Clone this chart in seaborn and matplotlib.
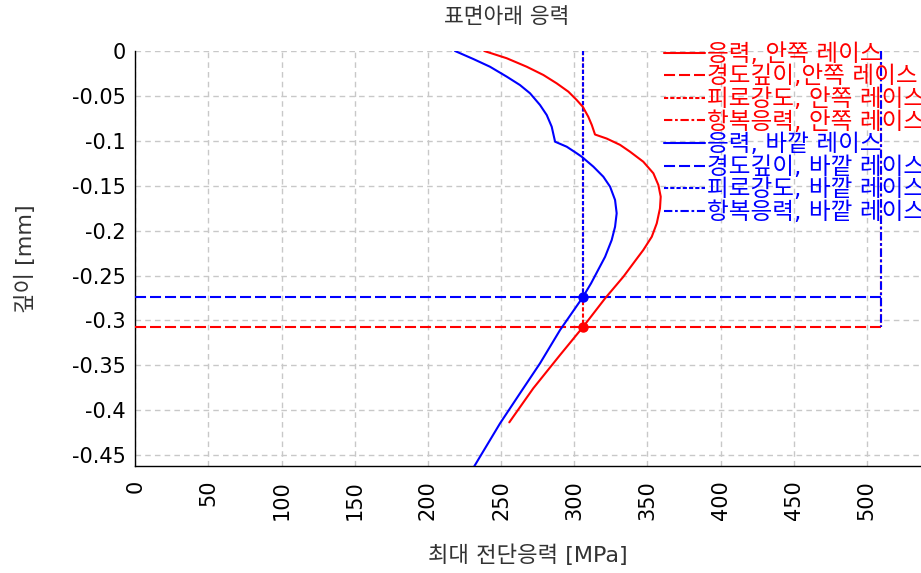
import matplotlib
matplotlib.use("Agg")
import matplotlib.pyplot as plt
import seaborn as sns
import pandas as pd

# Subsurface shear stress profiles (stress in MPa, depth in mm)
inner_stress = [238.5, 253.9, 267.5, 278.9, 288.0, 296.0, 301.7, 305.8, 309.6, 312.0,
                314.2, 322.2, 331.3, 338.1, 347.2, 354.1, 357.5, 359.1, 358.6,
                356.4, 353.0, 347.2, 343.6, 333.6, 321.1, 305.8, 290.3, 272.0, 255.6]
inner_depth = [0.0, -0.0081, -0.0175, -0.0267, -0.0360, -0.0453, -0.0546, -0.0620, -0.0732, -0.0824,
               -0.0930, -0.0975, -0.1045, -0.1121, -0.1233, -0.1362, -0.1492, -0.1622, -0.1752,
               -0.1919, -0.2068, -0.2216, -0.2294, -0.2513, -0.2754, -0.3077, -0.3385, -0.3756, -0.4135]

outer_stress = [218.5, 231.0, 242.4, 253.9, 262.9, 269.8, 276.6, 281.2, 284.6, 286.9,
                294.9, 301.7, 305.1, 313.1, 319.9, 324.5, 327.9, 329.0, 327.9, 325.6,
                321.1, 311.5, 305.8, 290.3, 276.6, 262.9, 249.3, 231.5]
outer_depth = [0.0, -0.0089, -0.0175, -0.0286, -0.0379, -0.0471, -0.0601, -0.0713, -0.0843, -0.1010,
               -0.1066, -0.1139, -0.1177, -0.1288, -0.1400, -0.1511, -0.1659, -0.1807, -0.1957, -0.2105,
               -0.2291, -0.2587, -0.2743, -0.3107, -0.3478, -0.3812, -0.4146, -0.4629]

# Material limits per race
hardness_depth = {"inner": -0.3077, "outer": -0.2743}
fatigue_strength = {"inner": 305.8, "outer": 305.8}
yield_stress = {"inner": 509.7, "outer": 509.7}

x_ticks = [0, 50, 100, 150, 200, 250, 300, 350, 400, 450, 500]
y_ticks = [0, -0.05, -0.1, -0.15, -0.2, -0.25, -0.3, -0.35, -0.4, -0.45]
y_tick_labels = ["0", "-0.05", "-0.1", "-0.15", "-0.2", "-0.25", "-0.3", "-0.35", "-0.4", "-0.45"]

labels = {
    "inner": ["응력, 안쪽 레이스", "경도깊이,안쪽 레이스", "피로강도, 안쪽 레이스", "항복응력, 안쪽 레이스"],
    "outer": ["응력, 바깥 레이스", "경도깊이, 바깥 레이스", "피로강도, 바깥 레이스", "항복응력, 바깥 레이스"],
}
colors = {"inner": "#ff0000", "outer": "#0000ff"}

sns.set_theme(style="white")
plt.rcParams["font.family"] = ["DejaVu Sans", "Noto Sans CJK KR"]

fig = plt.figure(figsize=(9.21, 5.73), dpi=100)
ax = fig.add_axes([135.3 / 921, 107 / 573, 785.7 / 921, 415 / 573])

profiles = pd.concat([
    pd.DataFrame({"stress": inner_stress, "depth": inner_depth, "race": "inner"}),
    pd.DataFrame({"stress": outer_stress, "depth": outer_depth, "race": "outer"}),
])

lw = 1.5
ls_hard = (0, (5.3, 1.9))
ls_fat = (0, (2.0, 1.0))
ls_yield = (0, (4.0, 1.3, 1.3, 1.3))

handles = []
for race in ["inner", "outer"]:
    c = colors[race]
    sub = profiles[profiles["race"] == race]
    sns.lineplot(data=sub, x="stress", y="depth", sort=False, estimator=None,
                 color=c, lw=lw, ax=ax, zorder=4)
    h_stress, = ax.plot([], [], color=c, lw=lw)
    hd = hardness_depth[race]
    fs = fatigue_strength[race]
    ys = yield_stress[race]
    h_hard, = ax.plot([0, ys], [hd, hd], color=c, lw=lw, ls=ls_hard, zorder=3)
    h_fat, = ax.plot([fs, fs], [0, hd], color=c, lw=lw, ls=ls_fat, zorder=3)
    h_yield, = ax.plot([ys, ys], [0, hardness_depth["inner"]], color=c, lw=lw, ls=ls_yield, zorder=3)
    ax.plot([fs], [hd], marker="o", ms=6.5, color=c, zorder=5)
    handles += [h_stress, h_hard, h_fat, h_yield]

all_labels = labels["inner"] + labels["outer"]

ax.set_xlim(0, 537.0)
ax.set_ylim(-0.4621, 0)
ax.set_xticks(x_ticks)
ax.set_xticklabels([str(t) for t in x_ticks], rotation=90)
ax.set_yticks(y_ticks)
ax.set_yticklabels(y_tick_labels)
ax.tick_params(axis="both", direction="inout", length=8, width=1, labelsize=15,
               colors="black", pad=3)
ax.tick_params(axis="x", pad=6)
ax.grid(True, color="#c8c8c8", ls=(0, (4, 3)), lw=1)
for side in ["top", "right"]:
    ax.spines[side].set_visible(False)
for side in ["left", "bottom"]:
    ax.spines[side].set_color("black")
    ax.spines[side].set_linewidth(1)

ax.set_title("표면아래 응력", fontsize=15.5, color="#333333", pad=20,
             x=(507 - 135.3) / 785.7)
ax.set_xlabel("최대 전단응력 [MPa]", fontsize=16, color="#333333", labelpad=18)
ax.set_ylabel("깊이 [mm]", fontsize=16, color="#333333", labelpad=26)

leg = ax.legend(handles, all_labels, loc="upper left", bbox_to_anchor=(0.673, 1.022),
                frameon=False, fontsize=17, handlelength=1.75, handletextpad=0.05,
                labelspacing=-0.06, borderaxespad=0, borderpad=0)
for txt, h in zip(leg.get_texts(), handles):
    txt.set_color(h.get_color())
leg.set_zorder(10)

fig.savefig("out.png", dpi=100)
